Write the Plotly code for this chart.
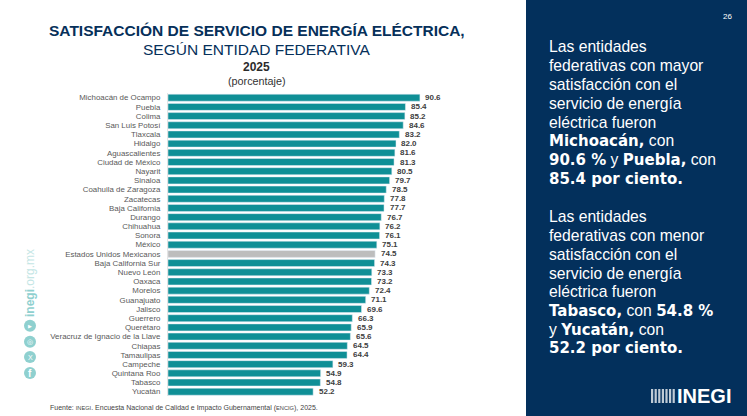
import plotly.graph_objects as go

W = 747
H = 416

entidades = [
    "Michoacán de Ocampo", "Puebla", "Colima", "San Luis Potosí", "Tlaxcala", "Hidalgo",
    "Aguascalientes", "Ciudad de México", "Nayarit", "Sinaloa", "Coahuila de Zaragoza",
    "Zacatecas", "Baja California", "Durango", "Chihuahua", "Sonora", "México",
    "Estados Unidos Mexicanos", "Baja California Sur", "Nuevo León", "Oaxaca", "Morelos",
    "Guanajuato", "Jalisco", "Guerrero", "Querétaro", "Veracruz de Ignacio de la Llave",
    "Chiapas", "Tamaulipas", "Campeche", "Quintana Roo", "Tabasco", "Yucatán",
]
valores = [
    90.6, 85.4, 85.2, 84.6, 83.2, 82.0, 81.6, 81.3, 80.5, 79.7, 78.5,
    77.8, 77.7, 76.7, 76.2, 76.1, 75.1, 74.5, 74.3, 73.3, 73.2, 72.4,
    71.1, 69.6, 66.3, 65.9, 65.6, 64.5, 64.4, 59.3, 54.9, 54.8, 52.2,
]
NACIONAL = "Estados Unidos Mexicanos"

TEAL = "#0f8f96"
GRIS = "#bdbdbd"
NAVY = "#03305c"
ICONO = "#8fd0cf"
SANS = "Liberation Sans"
ANCHA = "DejaVu Sans"

colores = [GRIS if e == NACIONAL else TEAL for e in entidades]


def px_x(x):
    return x / W


def px_y(y):
    return 1 - y / H


def texto(x, y, s, size, color="#333333", anchor="center", family=SANS, angle=0):
    return dict(
        x=px_x(x), y=px_y(y), xref="paper", yref="paper", text=s, showarrow=False,
        xanchor=anchor, yanchor="middle", align=anchor, textangle=angle,
        font=dict(family=family, size=size, color=color),
    )


def negrita(s):
    return f'<span style="font-family:{ANCHA};font-weight:bold;font-size:15px">{s}</span>'


fig = go.Figure(
    go.Bar(
        x=valores,
        y=entidades,
        orientation="h",
        marker=dict(color=colores),
        width=0.76,
        cliponaxis=False,
    )
)

# textos del panel lateral
panel_1 = [
    "Las entidades", "federativas con mayor", "satisfacción con el", "servicio de energía",
    "eléctrica fueron", negrita("Michoacán,") + " con",
    negrita("90.6 %") + " y " + negrita("Puebla,") + " con", negrita("85.4 por ciento."),
]
panel_2 = [
    "Las entidades", "federativas con menor", "satisfacción con el", "servicio de energía",
    "eléctrica fueron", negrita("Tabasco,") + " con " + negrita("54.8 %"),
    "y " + negrita("Yucatán,") + " con", negrita("52.2 por ciento."),
]

notas = [
    texto(256.5, 31, "<b>SATISFACCIÓN DE SERVICIO DE ENERGÍA ELÉCTRICA,</b>", 15.5, "#06305a"),
    texto(256.5, 49.5, "SEGÚN ENTIDAD FEDERATIVA", 15.5, "#06305a"),
    texto(256.5, 67, "<b>2025</b>", 12, "#2b2b2b"),
    texto(256.5, 80.5, "(porcentaje)", 10.8, "#333333"),
    texto(48, 408, "Fuente: <span style='font-size:5.7px'>INEGI</span>. Encuesta Nacional de Calidad e Impacto Gubernamental (<span style='font-size:5.7px'>ENCIG</span>), 2025.", 7, "#444444", "left"),
    texto(734, 17, "26", 8, "#ffffff", "right"),
    texto(30, 283, "<b>inegi</b><span style='color:#c4e6e5'>.org.mx</span>", 12, ICONO, angle=-90),
    texto(30, 325.7, "▶", 5, "#ffffff"),
    texto(30, 341.7, "◎", 7, "#ffffff"),
    texto(30, 357, "X", 7, "#ffffff"),
    texto(30, 373, "<b>f</b>", 10, "#ffffff"),
    texto(733, 396, "<b>INEGI</b>", 20, "#ffffff", "right"),
]
for i, linea in enumerate(panel_1):
    notas.append(texto(547, 46.7 + i * 18.9, linea, 15.7, "#ffffff", "left"))
for i, linea in enumerate(panel_2):
    notas.append(texto(547, 216.7 + i * 18.8, linea, 15.7, "#ffffff", "left"))

# etiquetas de valor: anotaciones para que plotly no las encoja
for e, v in zip(entidades, valores):
    notas.append(dict(
        x=v, y=e, xref="x", yref="y", text=f"<b>{v:.1f}</b>", showarrow=False,
        xanchor="left", yanchor="middle", xshift=3.5,
        font=dict(family=SANS, size=8, color="#404040"),
    ))

formas = [
    dict(type="rect", xref="paper", yref="paper", x0=px_x(526), x1=1, y0=0, y1=1,
         fillcolor=NAVY, line_width=0, layer="below"),
]
for yc in [325.7, 341.7, 357, 373]:
    formas.append(dict(type="circle", xref="paper", yref="paper",
                       x0=px_x(24), x1=px_x(36), y0=px_y(yc + 6), y1=px_y(yc - 6),
                       fillcolor=ICONO, line_width=0, layer="below"))
# logotipo: rejilla pequeña junto a INEGI
for col in range(7):
    formas.append(dict(type="rect", xref="paper", yref="paper",
                       x0=px_x(651 + col * 3.6), x1=px_x(653.2 + col * 3.6),
                       y0=px_y(403), y1=px_y(389),
                       fillcolor="#ffffff", line_width=0, opacity=0.75))

fig.update_layout(
    width=W,
    height=H,
    margin=dict(l=0, r=0, t=0, b=0),
    paper_bgcolor="#ffffff",
    plot_bgcolor="rgba(0,0,0,0)",
    showlegend=False,
    annotations=notas,
    shapes=formas,
    xaxis=dict(domain=[px_x(168), px_x(520)], range=[0, 126.6], visible=False, fixedrange=True),
    yaxis=dict(
        domain=[px_y(396.3), px_y(93.1)],
        range=[len(entidades) - 0.5, -0.5],
        tickmode="array",
        tickvals=entidades,
        ticktext=entidades,
        tickfont=dict(family=SANS, size=7.9, color="#595959"),
        ticks="outside",
        ticklen=5,
        tickcolor="rgba(0,0,0,0)",
        showgrid=False,
        showline=True,
        linecolor="#e4e4e4",
        linewidth=1,
        fixedrange=True,
    ),
)

# la pagina trae margen por defecto en el body
fig.write_html(
    "out.html",
    config={"displayModeBar": False},
    post_script="document.body.style.margin='0';document.body.style.overflow='hidden';",
)
